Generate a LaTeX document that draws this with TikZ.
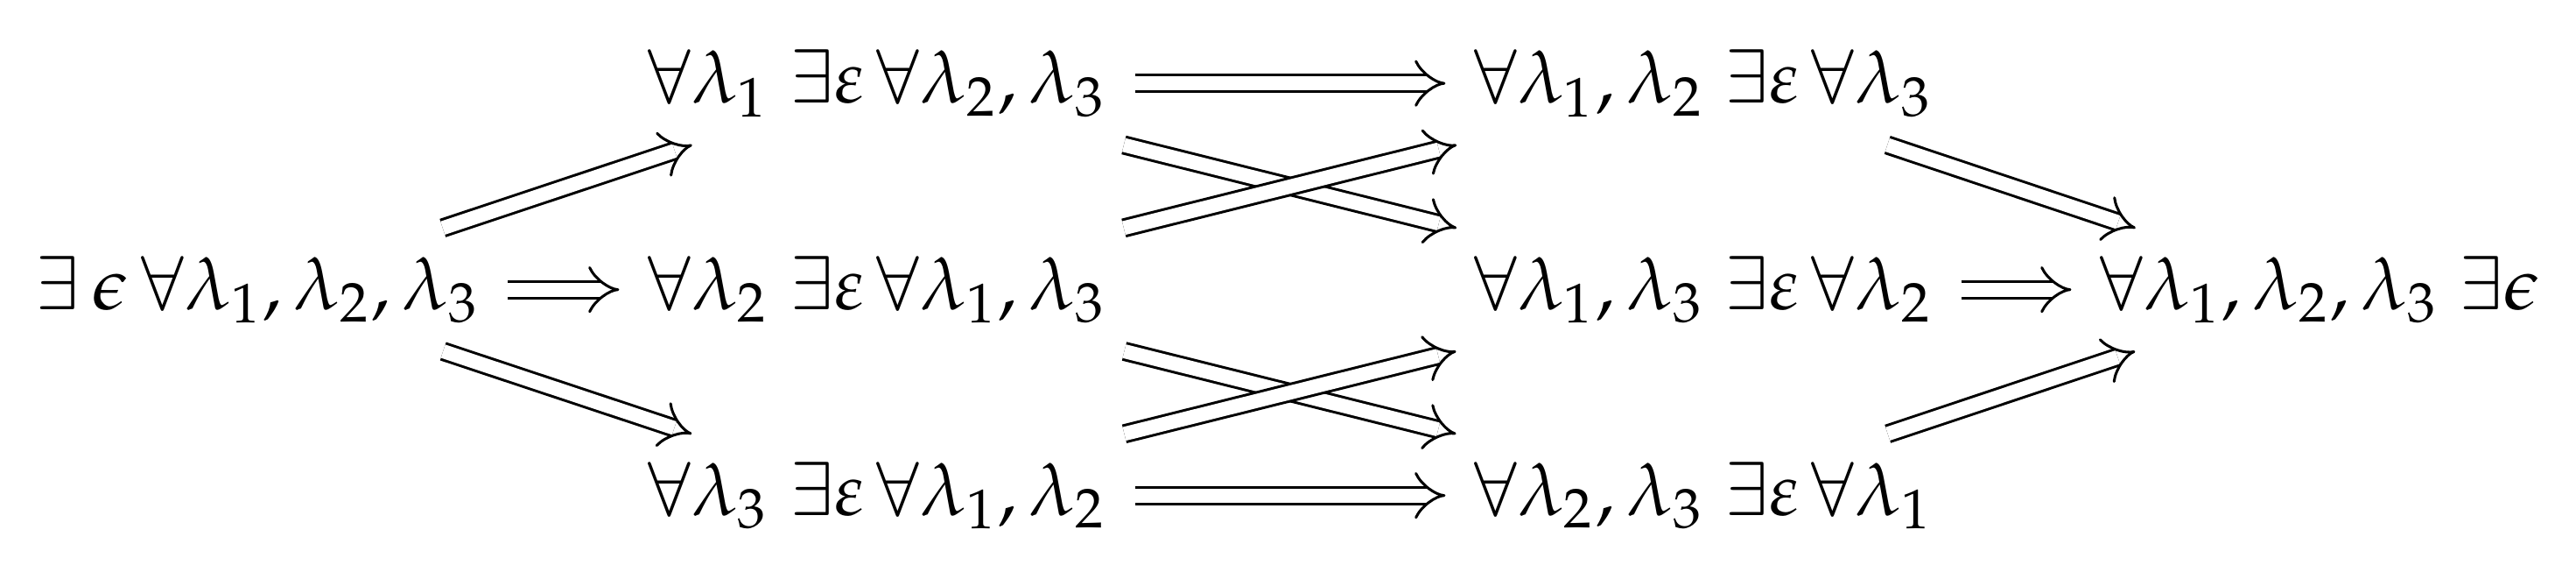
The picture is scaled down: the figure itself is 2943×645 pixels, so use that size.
\documentclass[tikz,border=0pt]{standalone}
\usepackage{mathpazo}
\usetikzlibrary{arrows.meta}
\begin{document}
\begin{tikzpicture}[x=0.119pt,y=-0.119pt,
  term/.style={anchor=base, inner sep=3.6pt},
  imp/.style={double, double distance=1.9pt, line width=0.36pt, -{Implies}}]
\useasboundingbox (0,0) rectangle (2943,645);
\node[term] (L)  at (294.5,353) {$\exists\,\epsilon\,\forall\lambda_1,\lambda_2,\lambda_3$};
\node[term] (M1) at (1002,117.5) {$\forall\lambda_1\;\exists\varepsilon\,\forall\lambda_2,\lambda_3$};
\node[term] (M2) at (1002,353) {$\forall\lambda_2\;\exists\varepsilon\,\forall\lambda_1,\lambda_3$};
\node[term] (M3) at (1002,588) {$\forall\lambda_3\;\exists\varepsilon\,\forall\lambda_1,\lambda_2$};
\node[term] (R1) at (1946,117.5) {$\forall\lambda_1,\lambda_2\;\exists\varepsilon\,\forall\lambda_3$};
\node[term] (R2) at (1946,353) {$\forall\lambda_1,\lambda_3\;\exists\varepsilon\,\forall\lambda_2$};
\node[term] (R3) at (1946,588) {$\forall\lambda_2,\lambda_3\;\exists\varepsilon\,\forall\lambda_1$};
\node[term] (F)  at (2650,353) {$\forall\lambda_1,\lambda_2,\lambda_3\;\exists\epsilon$};
\draw[imp] (L) -- (M1);
\draw[imp] (L) -- (M2);
\draw[imp] (L) -- (M3);
\draw[imp] (M1) -- (R1);
\draw[imp] (M1) -- (R2);
\draw[imp] (M2) -- (R1);
\draw[imp] (M2) -- (R3);
\draw[imp] (M3) -- (R2);
\draw[imp] (M3) -- (R3);
\draw[imp] (R1) -- (F);
\draw[imp] (R2) -- (F);
\draw[imp] (R3) -- (F);
\end{tikzpicture}
\end{document}
